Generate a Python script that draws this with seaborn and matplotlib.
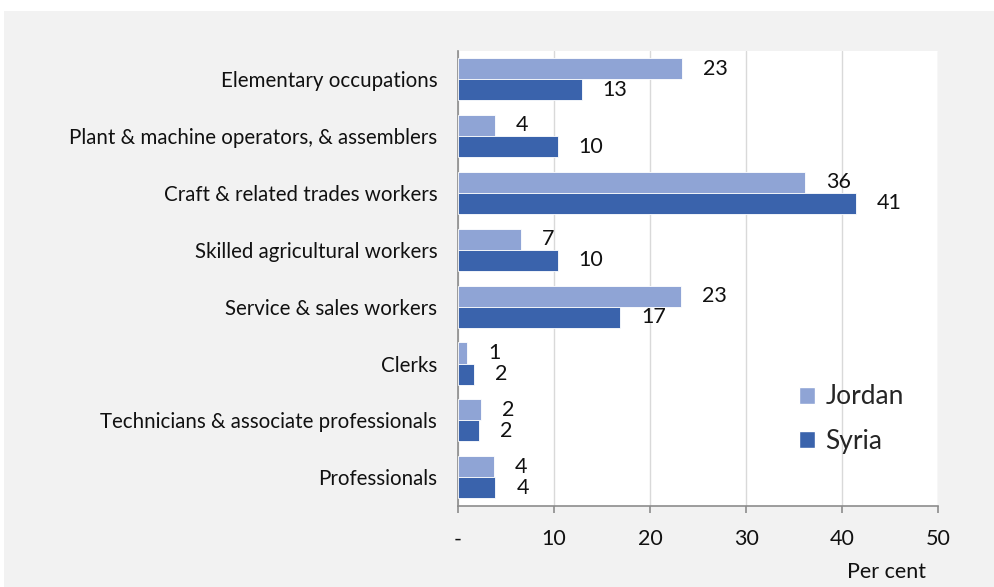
import numpy as np
import pandas as pd
import seaborn as sns
import matplotlib.pyplot as plt
from matplotlib.patches import Rectangle, Patch

# data
occupations = ["Elementary occupations",
               "Plant & machine operators, & assemblers",
               "Craft & related trades workers",
               "Skilled agricultural workers",
               "Service & sales workers",
               "Clerks",
               "Technicians & associate professionals",
               "Professionals"]
jordan = [23.3, 3.8, 36.1, 6.6, 23.2, 0.94, 2.4, 3.7]
syria = [12.9, 10.4, 41.4, 10.4, 16.9, 1.7, 2.2, 3.9]
x_ticks = [0, 10, 20, 30, 40, 50]
x_ticklabels = ["-", "10", "20", "30", "40", "50"]

df = pd.concat([
    pd.DataFrame({"occupation": occupations, "value": jordan, "country": "Jordan"}),
    pd.DataFrame({"occupation": occupations, "value": syria, "country": "Syria"}),
])

palette = {"Jordan": "#8FA4D5", "Syria": "#3A63AC"}

sns.set_style("white")
plt.rcParams['font.family'] = ['Lato', 'DejaVu Sans']

W, H = 994, 587
fig = plt.figure(figsize=(W / 100, H / 100), dpi=100, facecolor="white")
fig.patches.append(Rectangle((4 / W, 0), 1, (H - 11) / H, transform=fig.transFigure,
                             facecolor="#F2F2F2", edgecolor="none", zorder=-10))

left, right, top, bottom = 458, 938.3, 50.7, 505.7
ax = fig.add_axes([left / W, (H - bottom) / H, (right - left) / W, (bottom - top) / H])
ax.set_facecolor("white")

sns.barplot(data=df, y="occupation", x="value", hue="country", palette=palette,
            orient="h", width=0.74, ax=ax, edgecolor="white", linewidth=0.6,
            saturation=1, legend=False, zorder=3)

for cont in ax.containers:
    ax.bar_label(cont, labels=[f"{b.get_width():.0f}" for b in cont],
                 padding=15, fontsize=15.5, color="#111111")

ax.set_xlim(0, 50)
ax.set_ylim(len(occupations) - 0.5, -0.5)
ax.set_xticks(x_ticks, labels=x_ticklabels)
ax.grid(axis="x", color="#D9D9D9", linewidth=1, zorder=0)
ax.set_axisbelow(True)

for s in ["top", "right"]:
    ax.spines[s].set_visible(False)
for s in ["left", "bottom"]:
    ax.spines[s].set_color("#8C8C8C")
    ax.spines[s].set_linewidth(1.2)

ax.set_yticks(np.arange(-0.5, len(occupations)), minor=True)
ax.tick_params(axis="y", which="major", length=0, pad=15, labelsize=14.8, labelcolor="#111111")
ax.tick_params(axis="y", which="minor", length=4.5, width=1.2, color="#8C8C8C", direction="out")
ax.tick_params(axis="x", which="major", length=5, width=1.2, color="#8C8C8C", direction="out",
               pad=12, labelsize=15.5, labelcolor="#111111")
ax.tick_params(left=True, bottom=True)

ax.set_ylabel("")
ax.set_xlabel("Per cent", fontsize=15.5, color="#111111", loc="right")
ax.xaxis.set_label_coords((926 - left) / (right - left), -(572 - bottom) / (bottom - top))
ax.xaxis.label.set_va("center")

handles = [Patch(facecolor=palette["Jordan"], label="Jordan"),
           Patch(facecolor=palette["Syria"], label="Syria")]
leg = fig.legend(handles=handles, loc="center left", bbox_to_anchor=(786 / W, 1 - 419 / H),
                 frameon=False, fontsize=19, handlelength=0.6, handleheight=0.6,
                 handletextpad=0.4, labelspacing=0.72, borderpad=0)

fig.savefig("out.png", dpi=100)
